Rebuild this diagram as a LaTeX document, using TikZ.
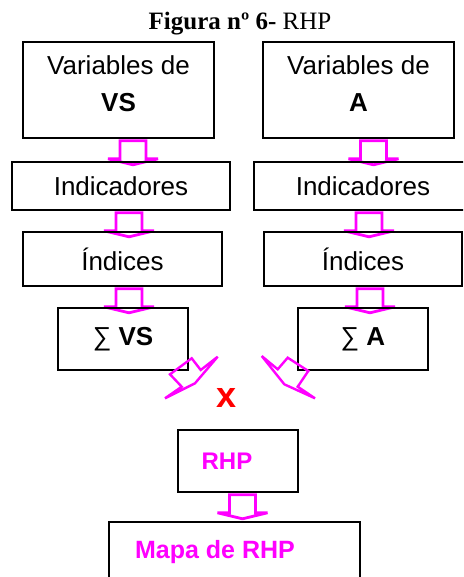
\documentclass[tikz,border=0pt]{standalone}
\usepackage{fontspec}
\setmainfont{Liberation Sans}
\newfontfamily\titlefont{Liberation Serif}
\usetikzlibrary{backgrounds}
\definecolor{pinkline}{RGB}{255,0,255}

\begin{document}
\begin{tikzpicture}
  [x=1pt,y=-1pt,
   box/.style={draw,line width=1.6pt,inner sep=0pt,align=center,
     font=\fontsize{26}{37}\selectfont},
   blk/.style={draw=pinkline,line width=2.8pt,line join=miter,miter limit=2,
     to path={([xshift=-13pt]\tikztostart) -- ++(0,18) -- ++(-12,0) -- ++(25,6)
       -- ++(25,-6) -- ++(-12,0) -- ++(0,-18) -- cycle}},
   diag/.style={draw=pinkline,line width=2.4pt,line join=miter,miter limit=2}]
  \useasboundingbox (0,0) rectangle (463,577);
  \clip (0,0) rectangle (463,577);

  \node[font=\titlefont\fontsize{25}{25}\selectfont,anchor=base] (title) at (240,30) {\textbf{Figura nº 6-} RHP};

  \node[box,minimum width=191pt,minimum height=96pt] (v1) at (118.5,90) {Variables de\\\textbf{VS}\rule[-12pt]{0pt}{0pt}};
  \node[box,minimum width=191pt,minimum height=96pt] (v2) at (358.5,90) {Variables de\\\textbf{A}\rule[-12pt]{0pt}{0pt}};
  \node[box,minimum width=218pt,minimum height=48pt] (i1) at (121,186) {Indicadores};
  \node[box,minimum width=218pt,minimum height=48pt] (i2) at (363,186) {Indicadores};
  \node[box,minimum width=199pt,minimum height=54pt] (d1) at (122.5,259) {Índices};
  \node[box,minimum width=198pt,minimum height=54pt] (d2) at (363,259) {Índices};
  \node[box,minimum width=130pt,minimum height=62pt] (s1) at (123,339) {∑ \textbf{VS}};
  \node[box,minimum width=130pt,minimum height=62pt] (s2) at (363,339) {∑ \textbf{A}};
  \node[text=red,font=\fontsize{36}{36}\selectfont\bfseries] (x) at (226.5,398) {x};
  \node[box,minimum width=120pt,minimum height=62pt,text=pinkline,
    font=\fontsize{24}{24}\selectfont\bfseries] (r) at (238,461) {RHP\hspace*{22pt}};
  \node[box,minimum width=251pt,minimum height=60pt,text=pinkline,
    font=\fontsize{25}{25}\selectfont\bfseries] (m) at (234.5,552) {Mapa de RHP\hspace*{39pt}};

\begin{pgfonlayer}{background}
\path [blk]
([xshift=14.5pt,yshift=-2pt]v1.south) edge (i1.north)
([xshift=15pt,yshift=-2pt]v2.south) edge (i2.north)
([xshift=8pt,yshift=-2pt]i1.south) edge (d1.north)
([xshift=6pt,yshift=-2pt]i2.south) edge (d2.north)
([xshift=6.5pt,yshift=-2pt]d1.south) edge (s1.north)
([xshift=7pt,yshift=-2pt]d2.south) edge (s2.north)
([xshift=4.5pt,yshift=-2pt]r.south) edge (m.north)
;
\end{pgfonlayer}

  % arrows from the sums to the product
  \draw[diag] (191.7,358.3) -- (200.7,370) -- (217.7,356.7) -- (195,383.3)
    -- (165,398.3) -- (181.7,386.7) -- (170,374.3) -- cycle;
  \draw[diag] (261.7,356) -- (277.7,369.3) -- (287.7,357.7) -- (308.3,371)
    -- (297.7,386.7) -- (315,398.3) -- (284.3,384.3) -- cycle;
\end{tikzpicture}
\end{document}
